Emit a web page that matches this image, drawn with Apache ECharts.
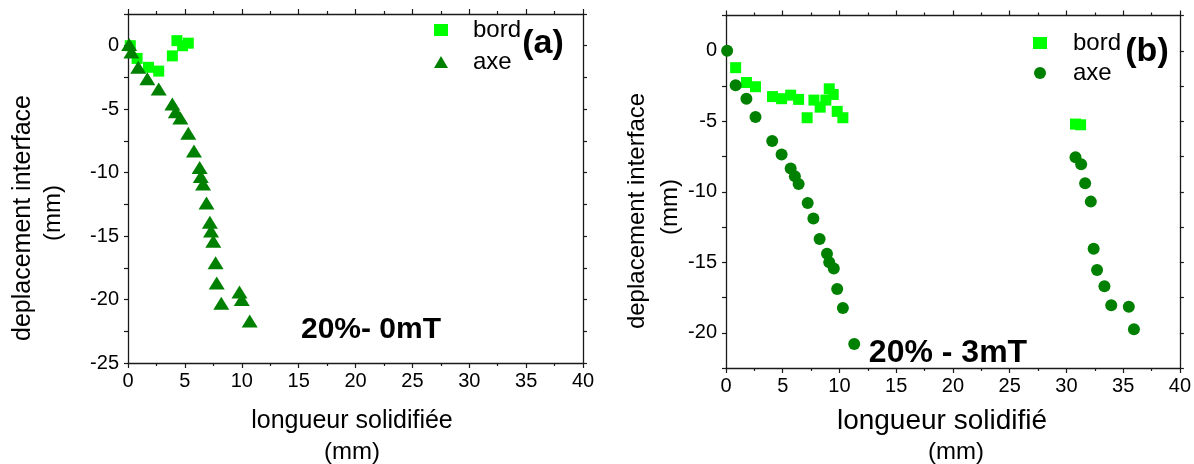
<!DOCTYPE html>
<html>
<head>
<meta charset="utf-8">
<script src="https://cdn.jsdelivr.net/npm/echarts@6/dist/echarts.min.js"></script>
<style>
html,body{margin:0;padding:0;background:#fff;}
#c{width:1194px;height:464px;}
</style>
</head>
<body>
<div id="c"></div>
<script>
// ---- data (x: longueur solidifiée mm, y: deplacement interface mm) ----
var aBord = [[0.2,0.0],[0.8,-1.0],[1.8,-1.7],[2.7,-2.0],[3.9,-0.8],[4.3,0.4],[4.8,0.0],[5.3,0.2]];
var aAxe = [[0.1,0.1],[0.3,-0.5],[0.9,-1.7],[1.7,-2.6],[2.7,-3.4],[3.9,-4.6],[4.2,-5.2],[4.6,-5.7],
            [5.3,-6.9],[5.8,-8.3],[6.3,-9.6],[6.4,-10.3],[6.6,-10.9],[6.9,-12.4],[7.2,-13.9],
            [7.3,-14.6],[7.5,-15.4],[7.7,-17.1],[7.8,-18.7],[8.2,-20.3],[9.8,-19.4],[10.0,-20.0],[10.7,-21.7]];
var bBord = [[0.85,-1.2],[1.8,-2.25],[2.6,-2.55],[4.1,-3.25],[4.9,-3.4],[5.7,-3.15],[6.4,-3.45],
             [7.15,-4.75],[7.75,-3.5],[8.3,-4.0],[8.8,-3.5],[9.1,-2.7],[9.45,-3.1],[9.8,-4.3],
             [10.3,-4.75],[30.8,-5.2],[31.25,-5.25]];
var bAxe = [[0.1,0.0],[0.85,-2.45],[1.8,-3.4],[2.6,-4.7],[4.07,-6.4],[4.9,-7.35],[5.7,-8.35],
            [6.07,-8.9],[6.4,-9.45],[7.2,-10.8],[7.7,-11.9],[8.25,-13.35],[8.9,-14.4],[9.1,-15.0],
            [9.5,-15.45],[9.8,-16.9],[10.3,-18.25],[11.3,-20.8],
            [30.8,-7.55],[31.3,-8.05],[31.65,-9.4],[32.15,-10.7],[32.4,-14.05],[32.7,-15.55],
            [33.35,-16.7],[33.95,-18.05],[35.5,-18.15],[35.95,-19.75]];
var xRange = [0, 40];
var yRangeA = [-25, 2.5];
var yRangeB = [-22.5, 2.5];
var yTitle = 'deplacement interface';
var unitTitle = '(mm)';
var xTitleA = 'longueur solidifiée';
var xTitleB = 'longueur solidifié';
var tagA = '(a)', tagB = '(b)';
var condA = '20%- 0mT', condB = '20% - 3mT';

var FONT = '"Liberation Sans", Arial, sans-serif';
var AXC = '#1a1a1a';
var cBord = '#00ff00', cAxe = '#008000';

function yFmt(v){ return Math.abs(v % 5) < 1e-9 ? String(Math.round(v)) : ''; }

function xAx(grid, pos, labels){
  return {
    type:'value', gridIndex:grid, position:pos, min:xRange[0], max:xRange[1], interval:5,
    axisLine:{show:true, onZero:false, lineStyle:{color:AXC, width:1.3}},
    axisTick:{show:true, inside:false, length:5, lineStyle:{color:AXC, width:1.2}},
    minorTick:{show:true, splitNumber:2, length:3, lineStyle:{color:AXC, width:1.2}},
    splitLine:{show:false},
    axisLabel:{show:labels, color:'#000', fontFamily:FONT, fontSize:20, margin:8}
  };
}
function yAx(grid, pos, rng, labels){
  return {
    type:'value', gridIndex:grid, position:pos, min:rng[0], max:rng[1], interval:2.5,
    axisLine:{show:true, onZero:false, lineStyle:{color:AXC, width:1.3}},
    axisTick:{show:true, inside:false, length:4, lineStyle:{color:AXC, width:1.2}},
    splitLine:{show:false},
    axisLabel:{show:labels, color:'#000', fontFamily:FONT, fontSize:20, margin:9, formatter:yFmt}
  };
}

var chart = echarts.init(document.getElementById('c'), null, {renderer:'canvas'});
var txt = function(t, x, y, size, bold, rot){
  return {type:'text', x:x, y:y, rotation:rot||0,
    style:{text:t, fill:'#000', font:(bold?'bold ':'') + size + 'px ' + FONT, align:'center', verticalAlign:'middle'}};
};
chart.setOption({
  animation:false,
  backgroundColor:'#fff',
  grid:[
    {left:128, top:14, width:455, height:349},
    {left:726, top:15.5, width:455, height:352.5}
  ],
  xAxis:[xAx(0,'bottom',true), xAx(0,'top',false), xAx(1,'bottom',true), xAx(1,'top',false)],
  yAxis:[yAx(0,'left',yRangeA,true), yAx(0,'right',yRangeA,false), yAx(1,'left',yRangeB,true), yAx(1,'right',yRangeB,false)],
  legend:[
    {orient:'vertical', left:429, top:13, itemWidth:14, itemHeight:12, itemGap:8,
     textStyle:{fontFamily:FONT, fontSize:24, color:'#000', lineHeight:24, padding:[0,0,0,20]},
     data:[{name:'bord', icon:'rect'},{name:'axe', icon:'triangle'}]},
    {orient:'vertical', left:1028, top:26, itemWidth:14, itemHeight:12, itemGap:6,
     textStyle:{fontFamily:FONT, fontSize:24, color:'#000', lineHeight:24, padding:[0,0,0,21]},
     data:[{name:'bord ', icon:'rect'},{name:'axe ', icon:'circle'}]}
  ],
  series:[
    {name:'bord', type:'scatter', xAxisIndex:0, yAxisIndex:0, data:aBord, symbol:'rect', symbolSize:11, itemStyle:{color:cBord, opacity:1}},
    {name:'axe', type:'scatter', xAxisIndex:0, yAxisIndex:0, data:aAxe, symbol:'triangle', symbolSize:[16,13], itemStyle:{color:cAxe, opacity:1}},
    {name:'bord ', type:'scatter', xAxisIndex:2, yAxisIndex:2, data:bBord, symbol:'rect', symbolSize:11, itemStyle:{color:cBord, opacity:1}},
    {name:'axe ', type:'scatter', xAxisIndex:2, yAxisIndex:2, data:bAxe, symbol:'circle', symbolSize:12, itemStyle:{color:cAxe, opacity:1}}
  ],
  graphic:[
    txt(yTitle, 23, 218, 25, false, Math.PI/2),
    txt(unitTitle, 53, 213, 24, false, Math.PI/2),
    txt(yTitle, 637, 211, 24, false, Math.PI/2),
    txt(unitTitle, 670, 207, 24, false, Math.PI/2),
    txt(xTitleA, 352, 421, 25, false),
    txt(unitTitle, 352, 452, 24, false),
    txt(xTitleB, 942, 421, 28, false),
    txt(unitTitle, 956, 452, 24, false),
    txt(tagA, 543, 44, 34, true),
    txt(tagB, 1147, 52, 34, true),
    txt(condA, 371, 330, 30, true),
    txt(condB, 948, 353, 32, true)
  ]
});
</script>
</body>
</html>
